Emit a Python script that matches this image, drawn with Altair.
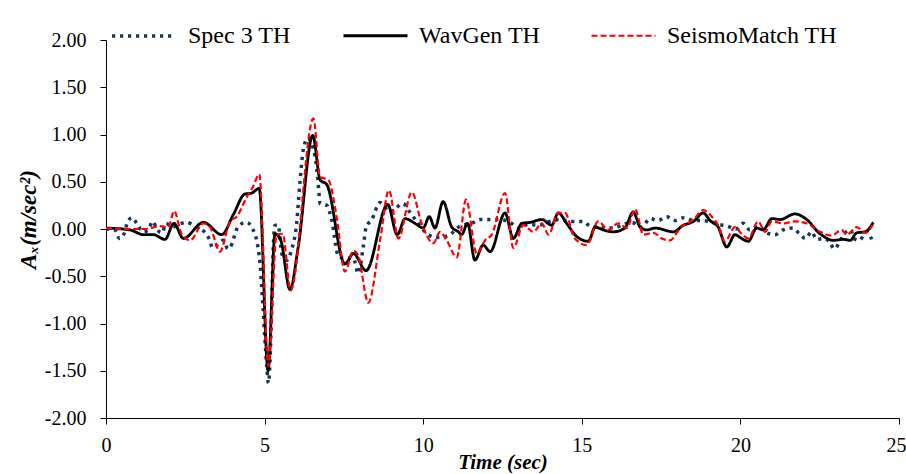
import altair as alt
import pandas as pd

series_names = ["Spec 3 TH", "WavGen TH", "SeismoMatch TH"]
series_colors = ["#17365D", "#000000", "#FF0000"]

spec_t = [0.0, 0.28, 0.42, 0.57, 0.65, 0.81, 0.99, 1.16, 1.33, 1.47, 1.62, 1.77, 1.89, 2.1, 2.3,
          2.54, 2.8, 3.10, 3.26, 3.36, 3.51, 3.70, 3.84, 3.98, 4.06, 4.17, 4.43, 4.64, 4.75, 4.86,
          4.96, 5.07, 5.12, 5.22, 5.27, 5.33, 5.43, 5.54, 5.70, 5.85, 6.01, 6.12, 6.22, 6.36, 6.59,
          6.69, 6.75, 6.96, 7.11, 7.33, 7.53, 7.80, 7.95, 8.11, 8.20, 8.38, 8.64, 8.95, 9.37, 9.53,
          9.80, 10.21, 10.48, 10.79, 11.21, 11.53, 11.79, 12.11, 12.40, 12.68, 13.05, 13.31, 13.63,
          14.0, 14.31, 14.68, 15.05, 15.26, 15.57, 15.84, 16.10, 16.57, 16.89, 17.15, 17.41, 17.68,
          17.94, 18.22, 18.52, 18.74, 19.02, 19.30, 19.59, 19.86, 20.09, 20.30, 20.57, 20.83, 21.09,
          21.35, 21.65, 21.86, 22.05, 22.25, 22.40, 22.61, 22.80, 22.96, 23.14, 23.27, 23.48, 23.58,
          23.75, 23.98, 24.14]
spec_a = [0.0, -0.01, -0.10, -0.05, 0.04, 0.12, 0.05, -0.03, -0.01, 0.08, -0.01, -0.04, 0.06, 0.02, 0.05,
          0.07, 0.03, -0.03, -0.11, -0.20, -0.17, -0.12, -0.21, -0.15, -0.06, 0.03, 0.07, -0.01, -0.12, -0.38,
          -0.89, -1.46, -1.63, -0.89, -0.22, 0.04, 0.04, -0.26, -0.33, -0.22, 0.06, 0.52, 0.84, 0.96, 0.77,
          0.48, 0.27, 0.25, 0.10, -0.29, -0.31, -0.31, -0.47, -0.19, 0.02, 0.10, 0.28, 0.18, 0.27, 0.20,
          0.08, -0.07, -0.09, -0.07, 0.04, 0.06, 0.10, 0.10, 0.10, 0.08, 0.01, 0.05, 0.04,
          0.08, 0.10, 0.08, 0.08, 0.03, 0.02, 0.01, 0.02, 0.07, 0.02, 0.11, 0.09, 0.13,
          0.09, 0.12, 0.09, 0.09, 0.08, 0.05, 0.03, 0.00, 0.06, -0.01, 0.03, -0.04, -0.06,
          -0.01, 0.01, -0.05, -0.10, -0.03, -0.11, -0.10, -0.13, -0.21, -0.13, -0.05, -0.01, -0.10,
          -0.12, -0.03, -0.11]

wav_t = [0.0, 0.76, 1.18, 1.49, 1.86, 2.14, 2.44, 3.07, 3.65, 4.01, 4.38, 4.59, 4.83, 5.11, 5.33,
         5.51, 5.80, 6.06, 6.52, 6.75, 6.96, 7.53, 7.80, 8.20, 8.88, 9.18, 9.43, 9.74, 10.0, 10.19,
         10.37, 10.63, 10.90, 11.11, 11.21, 11.40, 11.63, 11.89, 12.11, 12.58, 12.84, 13.11, 13.37,
         13.74, 14.05, 14.26, 14.52, 14.84, 15.21, 15.42, 15.68, 15.99, 16.36, 16.62, 16.84, 17.05,
         17.31, 17.89, 18.20, 18.52, 18.83, 19.04, 19.30, 19.57, 19.83, 20.04, 20.25, 20.51, 20.72,
         20.99, 21.25, 21.72, 22.09, 22.51, 22.93, 23.24, 23.46, 23.67, 23.93, 24.19]
wav_a = [0.01, -0.01, -0.06, -0.06, -0.11, 0.06, -0.10, 0.07, -0.06, 0.15, 0.37, 0.38, 0.43, -1.50, -0.05,
         -0.12, -0.64, -0.19, 0.99, 0.52, 0.47, -0.37, -0.26, -0.44, 0.26, -0.06, 0.11, 0.06, 0.01, 0.13,
         0.01, 0.29, 0.02, -0.03, -0.06, 0.06, -0.33, -0.17, -0.24, 0.17, -0.10, 0.06, 0.07,
         0.10, 0.04, 0.17, 0.06, -0.08, -0.13, 0.02, -0.01, -0.03, 0.01, 0.18, 0.02, -0.01,
         0.01, -0.03, 0.04, 0.08, 0.17, 0.09, 0.02, -0.19, -0.06, -0.10, -0.13, 0.01, -0.01,
         0.11, 0.10, 0.16, 0.10, -0.05, -0.12, -0.11, -0.12, -0.04, -0.03, 0.07]

sm_t = [0.0, 0.76, 1.23, 1.70, 1.96, 2.15, 2.38, 2.65, 3.07, 3.28, 3.59, 3.91, 4.12, 4.44, 4.64,
        4.83, 5.12, 5.38, 5.57, 5.82, 6.54, 6.75, 7.01, 7.27, 7.53, 7.80, 7.95, 8.27, 8.64, 8.92,
        9.22, 9.64, 9.95, 10.32, 10.53, 10.74, 11.06, 11.35, 11.69, 11.95, 12.16, 12.58, 12.84,
        13.16, 13.47, 13.74, 13.95, 14.26, 14.47, 14.78, 15.15, 15.52, 15.84, 16.15, 16.42, 16.68,
        16.94, 17.26, 17.52, 17.78, 18.10, 18.52, 18.83, 19.10, 19.30, 19.51, 19.83, 20.04, 20.25,
        20.56, 20.78, 20.99, 21.35, 21.72, 22.09, 22.51, 22.88, 23.19, 23.35, 23.67, 23.93, 24.17]
sm_a = [0.01, 0.0, 0.0, 0.03, 0.02, 0.19, -0.05, -0.12, 0.06, 0.02, -0.24, 0.08, 0.13, 0.34, 0.45,
        0.58, -1.45, -0.06, -0.05, -0.65, 1.17, 0.55, 0.52, 0.13, -0.45, -0.23, -0.28, -0.78, -0.12, 0.41,
        -0.10, 0.39, 0.06, -0.15, -0.03, -0.12, -0.30, 0.31, -0.26, -0.12, -0.06, 0.38, -0.20,
        0.04, -0.03, 0.06, -0.06, 0.17, 0.17, -0.10, -0.17, 0.08, -0.01, 0.06, 0.01, 0.21,
        -0.06, -0.04, -0.10, -0.12, 0.01, 0.10, 0.20, 0.13, 0.04, -0.13, 0.02, -0.05, -0.10,
        0.08, -0.03, 0.08, 0.06, 0.08, 0.06, -0.03, -0.07, -0.01, -0.06, 0.02, -0.04, 0.04]

x_ticks = [0, 5, 10, 15, 20, 25]
y_ticks = [-2.0, -1.5, -1.0, -0.5, 0.0, 0.5, 1.0, 1.5, 2.0]

rows = []
for name, ts, vs in zip(series_names, [spec_t, wav_t, sm_t], [spec_a, wav_a, sm_a]):
    for t, v in zip(ts, vs):
        rows.append({"series": name, "time": t, "acc": v})
df = pd.DataFrame(rows)

serif = "'Times New Roman', 'Liberation Serif', Tinos, serif"

x_enc = alt.X(
    "time:Q",
    scale=alt.Scale(domain=[0, 25], nice=False, zero=False),
    axis=alt.Axis(
        values=x_ticks, title="Time (sec)", grid=False, domainColor="black", domainWidth=1,
        tickColor="black", tickSize=6, tickWidth=1, labelFont=serif, labelFontSize=20,
        labelColor="black", labelPadding=11, labelFlush=False,
        labelAlign=alt.condition("datum.value == 25", alt.value("right"), alt.value("center")),
        labelOffset=alt.condition("datum.value == 25", alt.value(7), alt.value(0)),
        titleFont=serif, titleFontSize=21, titleFontWeight="bold", titleFontStyle="italic",
        titleColor="black", titleY=50, titleBaseline="alphabetic",
    ),
)
y_enc = alt.Y(
    "acc:Q",
    scale=alt.Scale(domain=[-2, 2], nice=False, zero=False),
    axis=alt.Axis(
        values=y_ticks, title="Aₓ(m/sec²)", grid=False, domainColor="black", domainWidth=1,
        tickColor="black", tickSize=6, tickWidth=1, labelFont=serif, labelFontSize=20,
        labelColor="black", labelPadding=14,
        labelExpr="replace(format(datum.value, '.2f'), '\u2212', '-')",
        titleFont=serif, titleFontSize=23, titleFontWeight="bold", titleFontStyle="italic",
        titleColor="black", titleAngle=270, titleX=-71, titleY=179, titleAlign="center",
        titleBaseline="alphabetic",
    ),
)

legend = alt.Legend(
    orient="none", legendX=4, legendY=-38, direction="horizontal", symbolType="stroke",
    symbolSize=4096, labelFont=serif, labelFontSize=24, labelColor="black", labelOffset=10,
    columnPadding=46, padding=0, labelLimit=400,
)

color_enc = alt.Color("series:N", title=None,
                      scale=alt.Scale(domain=series_names, range=series_colors),
                      legend=legend)
dash_enc = alt.StrokeDash("series:N", title=None,
                          scale=alt.Scale(domain=series_names, range=[[3.2, 4.8], [1, 0], [6, 3]]),
                          legend=legend)
width_enc = alt.StrokeWidth("series:N", title=None,
                            scale=alt.Scale(domain=series_names, range=[3.5, 2.2, 2.4]),
                            legend=legend)

base = alt.Chart(df).mark_line(interpolate="monotone", strokeCap="butt").encode(
    x=x_enc, y=y_enc, color=color_enc, strokeDash=dash_enc, strokeWidth=width_enc,
    order="time:Q",
)

layers = [base.transform_filter(alt.datum.series == name) for name in series_names]

chart = alt.layer(*layers).properties(
    width=793, height=378,
    autosize=alt.AutoSizeParams(type="none"),
    padding={"left": 106, "top": 40, "right": 7, "bottom": 56},
    background="white",
).configure_view(stroke=None)

chart.save("out.html", embed_options={"renderer": "svg", "actions": False})
